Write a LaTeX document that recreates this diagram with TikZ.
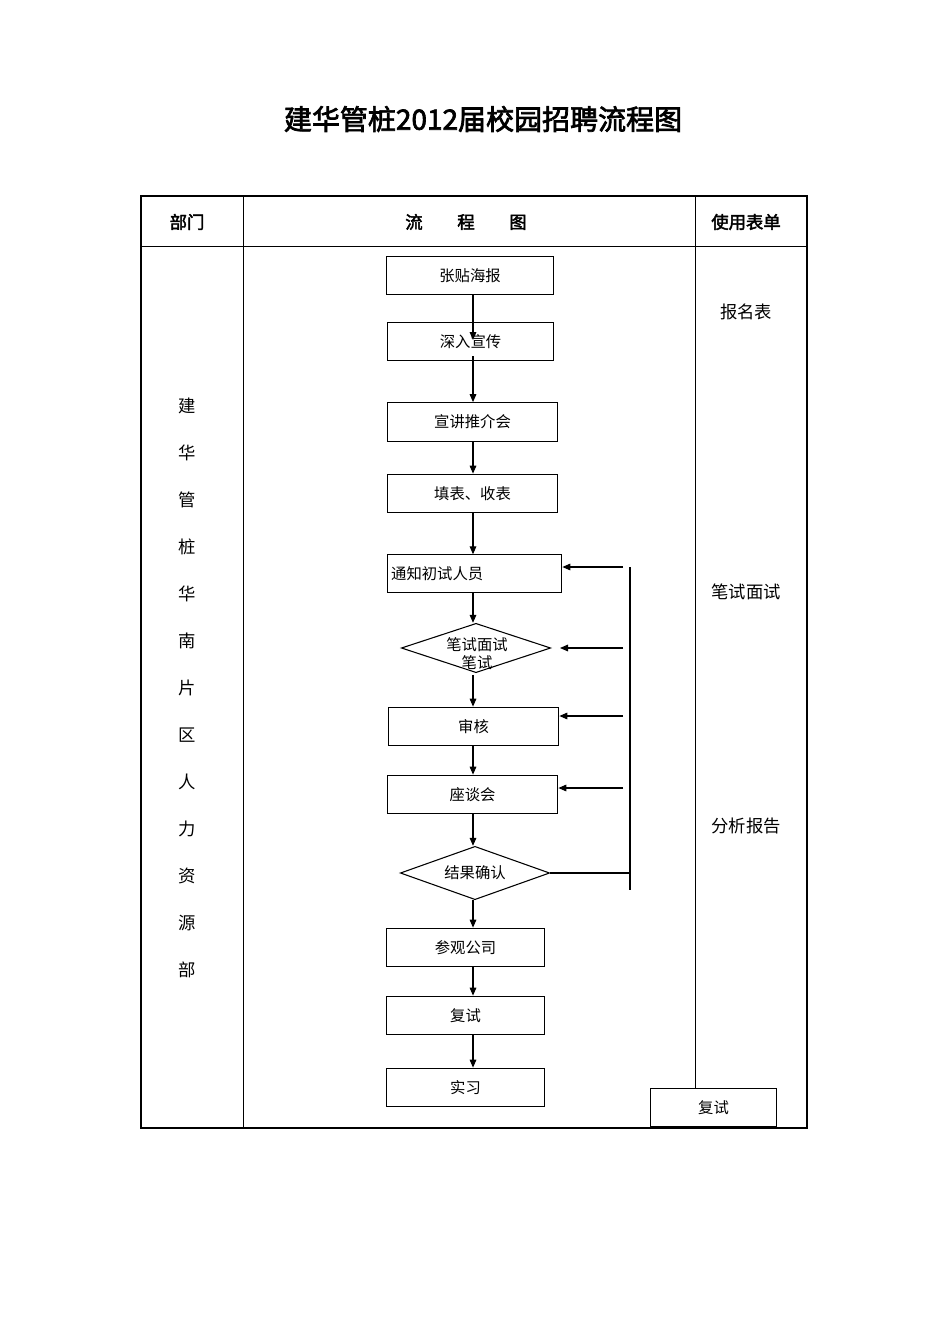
\documentclass[tikz,border=0pt]{standalone}
\usepackage{fontspec}
\setmainfont{Noto Sans CJK SC}[AutoFakeBold=2.5]
\usetikzlibrary{shapes.geometric,arrows.meta}
\begin{document}
\begin{tikzpicture}[x=0.75pt,y=-0.75pt,
  bx/.style={draw,thick,minimum height=29pt,inner sep=0pt,font=\fontsize{11.5}{12}\selectfont},
  dm/.style={draw,thick,diamond,aspect=3,inner sep=0pt,font=\fontsize{11.5}{12}\selectfont},
  ar/.style={-{Triangle[length=6pt,width=5pt]},thick},
  lab/.style={font=\fontsize{13}{14}\selectfont},
  hd/.style={font=\bfseries\fontsize{13}{14}\selectfont}]
\useasboundingbox (0,0) rectangle (950,1344);
\node[font=\bfseries\fontsize{21}{24}\selectfont] (title) at (483,119) {建华管桩2012届校园招聘流程图};
% table
\draw[line width=1.5pt] (141,196) rectangle (807,1128);
\draw[thin] (141,246) -- (807,246) (243,196) -- (243,1128) (695,196) -- (695,1088);
\node[hd] (h1) at (187,222) {部门};
\node[hd] (h2) at (466,222) {流\hspace{2em}程\hspace{2em}图};
\node[hd] (h3) at (746,222) {使用表单};
\foreach \c [count=\i from 0] in {建,华,管,桩,华,南,片,区,人,力,资,源,部}
  \node[lab] (d\i) at (187,406+47*\i) {\c};
\node[lab] (f1) at (746,312) {报名表};
\node[lab] (f2) at (746,592) {笔试面试};
\node[lab] (f3) at (746,826) {分析报告};
% boxes
\node[bx,minimum width=125pt] (b1) at (470,275.5) {张贴海报};
\node[bx,minimum width=125pt] (b2) at (470.5,341.5) {深入宣传};
\node[bx,minimum width=128pt] (b3) at (472.5,422) {宣讲推介会};
\node[bx,minimum width=128pt] (b4) at (472.5,493.5) {填表、收表};
\node[bx,minimum width=131pt,text width=125pt,align=left,minimum height=28pt] (b5) at (474.5,573.5) {通知初试人员};
\node[dm,minimum width=112pt,minimum height=37pt] (d1) at (476,648) {};
\node[font=\fontsize{11.5}{12}\selectfont] (t1) at (477,645) {笔试面试};
\node[font=\fontsize{11.5}{12}\selectfont] (t2) at (477,663) {笔试};
\node[bx,minimum width=128pt] (b6) at (473.5,726.5) {审核};
\node[bx,minimum width=128pt] (b7) at (472.5,794.5) {座谈会};
\node[dm,minimum width=112pt,minimum height=40pt] (d2) at (475,873) {结果确认};
\node[bx,minimum width=118pt] (b8) at (465.5,947.5) {参观公司};
\node[bx,minimum width=118pt] (b9) at (465.5,1015.5) {复试};
\node[bx,minimum width=118pt] (b10) at (465.5,1087.5) {实习};
\node[bx,minimum width=94pt] (b11) at (713.5,1107.5) {复试};
% arrows
\coordinate (a1) at (473,340);
\draw[ar] (b1.south -| a1) -- (a1);
\draw[ar] (473,356) -- (b3.north -| a1);
\draw[ar] (b3.south -| a1) -- (b4.north -| a1);
\draw[ar] (b4.south -| a1) -- (b5.north -| a1);
\draw[ar] (b5.south -| a1) -- (d1.north -| a1);
\draw[ar] (t2.south -| a1) -- (b6.north -| a1);
\draw[ar] (b6.south -| a1) -- (b7.north -| a1);
\draw[ar] (b7.south -| a1) -- (d2.north -| a1);
\draw[ar] (d2.south -| a1) -- (b8.north -| a1);
\draw[ar] (b8.south -| a1) -- (b9.north -| a1);
\draw[ar] (b9.south -| a1) -- (b10.north -| a1);
% feedback
\coordinate (v1) at (630,567);
\coordinate (v2) at (630,890);
\draw[thick] (v1) -- (v2);
\draw[thick] (d2.east) -- (d2.east -| v1);
\draw[ar] (623,567) -- (b5.east |- 0,567);
\draw[ar] (623,648) -- (560,648);
\draw[ar] (623,716) -- (b6.east |- 0,716);
\draw[ar] (623,788) -- (b7.east |- 0,788);
\end{tikzpicture}
\end{document}
